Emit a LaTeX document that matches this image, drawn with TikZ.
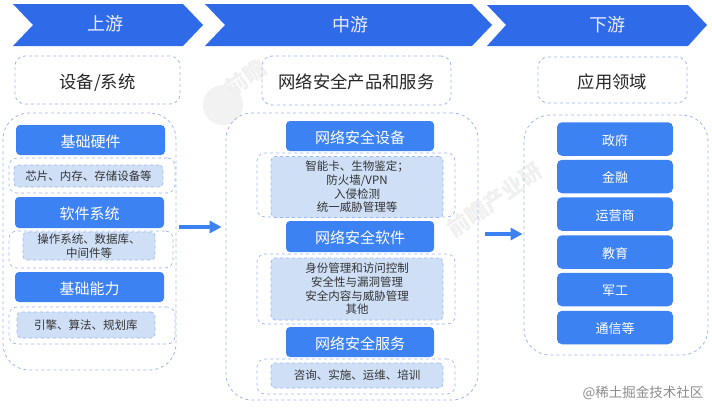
\documentclass[tikz,border=0pt]{standalone}
\usepackage{xcolor}
\usepackage{fontspec}
\setmainfont{Noto Sans CJK SC}
\usepackage{tikz}
\usetikzlibrary{arrows.meta}
\definecolor{chevblue}{HTML}{2F6BE8}
\definecolor{boxblue}{HTML}{3D82F2}
\definecolor{dashblue}{HTML}{9DB8F0}
\definecolor{paleblue}{HTML}{CFDFF6}
\begin{document}
\begin{tikzpicture}[
      x=1pt, y=-1pt,
      chev/.style={fill=chevblue},
      chevtxt/.style={text=white!92!blue, font=\fontsize{18}{20}\selectfont},
      grp/.style={draw=dashblue, dashed, line width=0.8pt, rounded corners=26pt, inner sep=0pt},
      toptab/.style={draw=dashblue, dashed, line width=0.8pt, rounded corners=10pt, inner sep=0pt,
      text=black!85, text height=16pt, text depth=0pt, font=\fontsize{17.3}{19}\selectfont},
      head/.style={fill=boxblue, rounded corners=4pt, inner sep=0pt, text=white,
      text height=14pt, text depth=0pt, font=\fontsize{15}{17}\selectfont},
      sector/.style={fill=boxblue, rounded corners=5pt, inner sep=0pt, minimum width=116pt,
      minimum height=33.5pt, text=white, text height=12pt, text depth=0pt,
      font=\fontsize{13}{15}\selectfont},
      outer/.style={draw=dashblue, dashed, line width=0.7pt, rounded corners=8pt, inner sep=0pt},
      inner/.style={draw=dashblue, dashed, fill=paleblue, line width=0.7pt, rounded corners=4pt,
      inner sep=0pt, align=center, text=black!80, font=\fontsize{11.5}{13.7}\selectfont},
      flow/.style={-{Triangle[length=12pt,width=12pt]}, boxblue, line width=3.5pt},
      wmark/.style={text=black!6, rotate=35, font=\bfseries\fontsize{22}{24}\selectfont}
    ]
    \useasboundingbox[fill=white] (0,0) rectangle (712,407);

    \fill[black!5] (223,105) circle (20pt);
    \node[wmark] (wma) at (246,78) {前瞻};
    \node[wmark] (wmb) at (495,200) {前瞻产业研};

    \fill[chev] (13,4) -- (183,4) -- (203,25) -- (183,46) -- (13,46) -- (33,25) -- cycle;
    \fill[chev] (205,4) -- (472,4) -- (492,25) -- (472,46) -- (205,46) -- (225,25) -- cycle;
    \fill[chev] (487,5) -- (688,5) -- (707,25) -- (688,46) -- (487,46) -- (506,25) -- cycle;
    \node[chevtxt] (up) at (105,24) {上游};
    \node[chevtxt] (mid) at (350,25) {中游};
    \node[chevtxt] (down) at (607,25) {下游};

    \node[toptab, minimum width=165pt, minimum height=48pt] (uptab) at (97.5,80) {设备/系统};
    \node[toptab, minimum width=189pt, minimum height=49pt] (midtab) at (356.5,80.5) {网络安全产品和服务};
    \node[toptab, minimum width=149pt, minimum height=46pt] (downtab) at (612.5,80) {应用领域};

    \node[grp, minimum width=173pt, minimum height=257pt] (upgrp) at (89.5,241.5) {};
    \node[grp, minimum width=252pt, minimum height=287pt] (midgrp) at (352,256.5) {};
    \node[grp, minimum width=184pt, minimum height=240pt] (downgrp) at (616,235) {};

    % upstream
    \node[head, minimum width=149pt, minimum height=30pt] (hw) at (90.5,140) {基础硬件};
    \node[outer, minimum width=166pt, minimum height=35pt] (hwo) at (92,175.5) {};
    \node[inner, minimum width=149pt, minimum height=22pt] (hwi) at (88.5,176) {芯片、内存、存储设备等};
    \node[head, minimum width=149pt, minimum height=31pt] (sw) at (89.5,212.5) {软件系统};
    \node[outer, minimum width=164pt, minimum height=37pt] (swo) at (91,249.5) {};
    \node[inner, minimum width=132pt, minimum height=28pt] (swi) at (89,246) {操作系统、数据库、\\中间件等};
    \node[head, minimum width=149pt, minimum height=30pt] (cap) at (89.5,287) {基础能力};
    \node[outer, minimum width=166pt, minimum height=37pt] (capo) at (92,325.5) {};
    \node[inner, minimum width=138pt, minimum height=26pt] (capi) at (86,325) {引擎、算法、规划库};

    % midstream
    \node[head, minimum width=148pt, minimum height=30pt] (dev) at (360,136) {网络安全设备};
    \node[outer, minimum width=198pt, minimum height=64pt] (devo) at (356,185) {};
    \node[inner, minimum width=172pt, minimum height=61pt] (devi) at (357,187) {智能卡、生物鉴定；\\防火墙/VPN\\入侵检测\\统一威胁管理等};
    \node[head, minimum width=148pt, minimum height=31pt] (soft) at (360,236.5) {网络安全软件};
    \node[outer, minimum width=198pt, minimum height=70pt] (softo) at (356,289) {};
    \node[inner, minimum width=172pt, minimum height=62pt] (softi) at (357,289) {身份管理和访问控制\\安全性与漏洞管理\\安全内容与威胁管理\\其他};
    \node[head, minimum width=148pt, minimum height=30pt] (serv) at (360,342) {网络安全服务};
    \node[outer, minimum width=198pt, minimum height=35pt] (servo) at (356,376.5) {};
    \node[inner, minimum width=172pt, minimum height=25pt] (servi) at (357,375.5) {咨询、实施、运维、培训};

    % downstream
    \node[sector] (gov) at (615,139) {政府};
    \node[sector] (fin) at (615,176.5) {金融};
    \node[sector] (tel) at (615,214) {运营商};
    \node[sector] (edu) at (615,252) {教育};
    \node[sector] (mil) at (615,289.5) {军工};
    \node[sector] (com) at (615,327.5) {通信等};

    \coordinate (flowa) at (0,227);
    \coordinate (flowb) at (0,234);
    \draw[flow, shorten <=3pt, shorten >=4pt] (upgrp.east |- flowa) -- (midgrp.west |- flowa);
    \draw[flow, shorten <=7pt, shorten >=1pt] (midgrp.east |- flowb) -- (downgrp.west |- flowb);

    \node[text=black!45, font=\fontsize{13.5}{15}\selectfont, anchor=east] (credit) at (707,393) {@稀土掘金技术社区};
  \end{tikzpicture}
\end{document}
